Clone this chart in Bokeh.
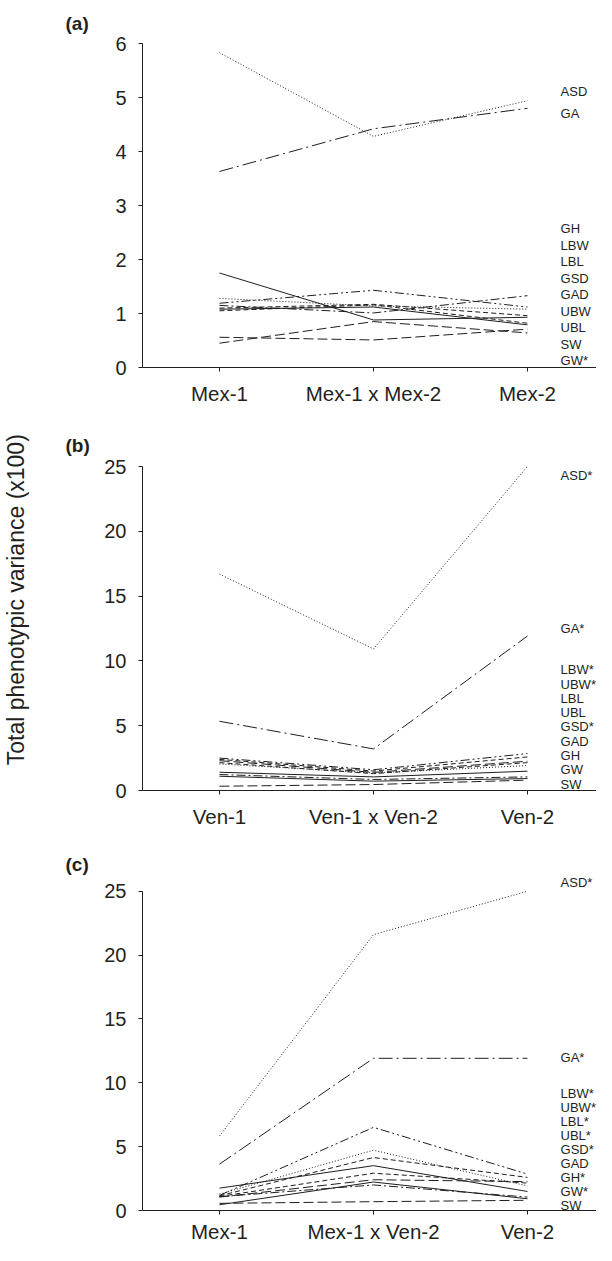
import math
from bokeh.plotting import figure
from bokeh.layouts import column
from bokeh.models import FixedTicker, Label, Range1d, Title
from bokeh.embed import file_html
from bokeh.resources import INLINE

FONT = "Liberation Sans"
INK = "#231f20"

# ---------------- data ----------------
cats_a = ["Mex-1", "Mex-1 x Mex-2", "Mex-2"]
traits_a = ["ASD", "GA", "GH", "LBW", "LBL", "GSD", "GAD", "UBW", "UBL", "SW", "GW*"]
ASD_a = [5.83, 4.28, 4.94]
GA_a = [3.63, 4.42, 4.80]
GH_a = [1.19, 1.43, 1.12]
LBW_a = [1.15, 1.01, 1.33]
LBL_a = [1.28, 1.14, 1.08]
GSD_a = [1.10, 1.17, 0.96]
GAD_a = [1.75, 0.88, 0.93]
UBW_a = [1.05, 1.16, 0.82]
UBL_a = [1.08, 1.12, 0.79]
SW_a = [0.56, 0.51, 0.71]
GW_a = [0.45, 0.85, 0.64]
values_a = [ASD_a, GA_a, GH_a, LBW_a, LBL_a, GSD_a, GAD_a, UBW_a, UBL_a, SW_a, GW_a]

cats_b = ["Ven-1", "Ven-1 x Ven-2", "Ven-2"]
traits_b = ["ASD*", "GA*", "LBW*", "UBW*", "LBL", "UBL", "GSD*", "GAD", "GH", "GW", "SW"]
ASD_b = [16.7, 10.92, 25.0]
GA_b = [5.34, 3.21, 11.92]
LBW_b = [2.40, 1.50, 2.59]
UBW_b = [2.30, 1.40, 2.26]
LBL_b = [2.05, 1.35, 1.92]
UBL_b = [1.23, 0.85, 1.05]
GSD_b = [2.15, 1.30, 2.15]
GAD_b = [2.50, 1.60, 2.85]
GH_b = [1.41, 1.05, 1.49]
GW_b = [1.10, 0.72, 0.92]
SW_b = [0.33, 0.46, 0.80]
values_b = [ASD_b, GA_b, LBW_b, UBW_b, LBL_b, UBL_b, GSD_b, GAD_b, GH_b, GW_b, SW_b]

cats_c = ["Mex-1", "Mex-1 x Ven-2", "Ven-2"]
traits_c = ["ASD*", "GA*", "LBW*", "UBW*", "LBL*", "UBL*", "GSD*", "GAD", "GH*", "GW*", "SW"]
ASD_c = [5.83, 21.6, 25.0]
GA_c = [3.63, 11.92, 11.92]
LBW_c = [1.15, 4.15, 2.59]
UBW_c = [1.05, 2.41, 2.26]
LBL_c = [1.28, 4.72, 1.92]
UBL_c = [1.08, 2.00, 1.05]
GSD_c = [1.10, 2.92, 2.15]
GAD_c = [1.18, 6.51, 2.85]
GH_c = [1.75, 3.51, 1.49]
GW_c = [0.45, 2.23, 0.92]
SW_c = [0.56, 0.69, 0.80]
values_c = [ASD_c, GA_c, LBW_c, UBW_c, LBL_c, UBL_c, GSD_c, GAD_c, GH_c, GW_c, SW_c]

y_title = "Total phenotypic variance (x100)"

# ---------------- styles ----------------
DOT = "1 2"
DASH = "5 3"
LONG = "10 4"
DASHDOT = "9 3 2 3"
DASHDOTDOT = "9 3 2 3 2 3"
GADASH = "14 4 2 4"
SOLID = "solid"
styles_a = [DOT, GADASH, DASHDOTDOT, DASHDOT, DOT, DASH, SOLID, DASH, SOLID, LONG, LONG]
styles_b = [DOT, GADASH, DASH, LONG, DOT, DASHDOT, DASH, DASHDOTDOT, SOLID, SOLID, LONG]
styles_c = [DOT, GADASH, DASH, LONG, DOT, DASHDOT, DASH, DASHDOTDOT, SOLID, SOLID, LONG]

XS = [1, 2, 3]
W = 596
FRAME_LEFT = 139
PX_PER_X = 155.0
X0 = 0.5
X1 = X0 + (W - FRAME_LEFT) / PX_PER_X


def make_panel(cats, traits, values, styles, ymax, ystep, top, frame_h, bottom,
               tag, top_label_y, stack_top, stack_step, pad_px=0, x_standoff=10,
               tag_gap=30, label_px=13):
    pxu = frame_h / ymax
    h = top + frame_h + bottom
    p = figure(width=W, height=h, output_backend="svg", toolbar_location=None,
               x_range=Range1d(X0, X1), y_range=Range1d(0, ymax + pad_px / pxu),
               min_border_left=FRAME_LEFT, min_border_right=0,
               min_border_top=top - pad_px, min_border_bottom=bottom)
    p.outline_line_color = None
    p.grid.grid_line_color = None
    p.background_fill_color = "white"
    p.border_fill_color = "white"
    for v, st in zip(values, styles):
        p.line(XS, v, line_color="#1e1e1e", line_width=1.0, line_dash=st)

    xa = p.xaxis[0]
    xa.ticker = FixedTicker(ticks=XS)
    xa.major_label_overrides = {i + 1: c for i, c in enumerate(cats)}
    xa.minor_tick_line_color = None
    xa.major_tick_in = 0
    xa.major_tick_out = 4
    xa.major_label_text_font = FONT
    xa.major_label_text_font_size = "20.5px"
    xa.major_label_text_color = INK
    xa.axis_line_color = INK
    xa.major_tick_line_color = INK
    xa.major_label_standoff = x_standoff

    ya = p.yaxis[0]
    ya.ticker = FixedTicker(ticks=list(range(0, int(ymax) + 1, ystep)))
    ya.bounds = (0, ymax)
    ya.minor_tick_line_color = None
    ya.major_tick_in = 0
    ya.major_tick_out = 4
    ya.major_label_text_font = FONT
    ya.major_label_text_font_size = "20px"
    ya.major_label_text_color = INK
    ya.axis_line_color = INK
    ya.major_tick_line_color = INK
    ya.major_label_standoff = 12

    # panel tag as a title shifted left over the tick labels
    t = Title(text=tag, align="left", offset=-(FRAME_LEFT - 62),
              text_font=FONT, text_font_size="19px", text_font_style="bold",
              text_color=INK)
    t.standoff = tag_gap - pad_px - 11
    p.add_layout(t, "above")

    # right-hand trait labels
    lx = 3.215
    for i, name in enumerate(traits):
        if i < 2:
            ly = top_label_y[i]
        else:
            ly = stack_top - (i - 2) * stack_step
        p.add_layout(Label(x=lx, y=ly, text=name, text_font=FONT,
                           text_font_size=f"{label_px}px", text_color=INK,
                           text_baseline="middle", text_align="left"))
    return p


pa = make_panel(cats_a, traits_a, values_a, styles_a, 6, 1, 43, 324, 55,
                "(a)", [5.12, 4.70], 2.57, 0.305)
pb = make_panel(cats_b, traits_b, values_b, styles_b, 25, 5, 43, 325, 54,
                "(b)", [24.3, 12.5], 9.3, 1.10, tag_gap=32)
pc = make_panel(cats_c, traits_c, values_c, styles_c, 25, 5, 47, 325, 29,
                "(c)", [25.7, 12.0], 9.2, 1.10, pad_px=14, x_standoff=5, tag_gap=31)

# y-axis title on the middle panel (leading no-break spaces lift it to the reference spot)
yb = pb.yaxis[0]
yb.axis_label = "\u00a0" * 9 + y_title
yb.axis_label_text_font = FONT
yb.axis_label_text_font_size = "23px"
yb.axis_label_text_font_style = "normal"
yb.axis_label_text_color = INK
yb.axis_label_standoff = 72

layout = column(pa, pb, pc, spacing=0)
open("out.html", "w").write(file_html(layout, INLINE))
